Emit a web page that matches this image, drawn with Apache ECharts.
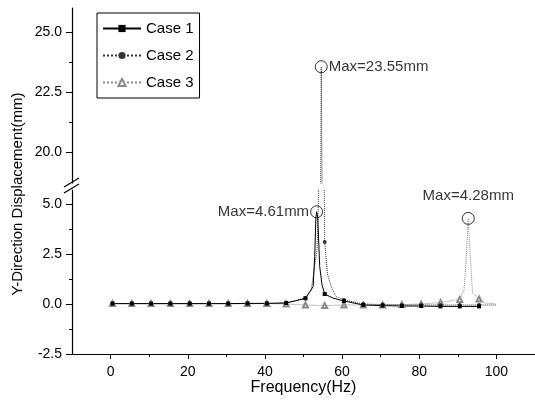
<!DOCTYPE html>
<html>
<head>
<meta charset="utf-8">
<script src="https://cdn.jsdelivr.net/npm/echarts@6/dist/echarts.min.js"></script>
<style>
  html, body { margin: 0; padding: 0; background: #fff; }
</style>
</head>
<body>
<div id="chart" style="width: 535px; height: 412px;"></div>
<script>
// marker positions (Hz), one marker every 5 Hz
const freq = [0.5, 5.5, 10.5, 15.5, 20.5, 25.5, 30.5, 35.5, 40.5, 45.5,
              50.5, 55.5, 60.5, 65.5, 70.5, 75.5, 80.5, 85.5, 90.5, 95.5];
// values at the markers (mm)
const case1 = [0.02, 0.02, 0.02, 0.02, 0.02, 0.02, 0.02, 0.03, 0.03, 0.05,
               0.28, 0.5, 0.15, -0.05, -0.08, -0.1, -0.1, -0.12, -0.12, -0.12];
const case2 = [0.02, 0.02, 0.02, 0.02, 0.02, 0.02, 0.02, 0.02, 0.03, 0.05,
               0.3, 3.1, 0.2, 0.0, -0.03, -0.05, -0.05, -0.05, -0.05, -0.05];
const case3 = [0.02, 0.02, 0.02, 0.02, 0.02, 0.02, 0.02, 0.02, 0.02, 0.0,
               -0.05, -0.08, -0.05, -0.05, -0.05, -0.03, 0.0, 0.08, 0.23, 0.25];
// extra curve points between markers (resonance peaks)
const case1Curve = [[52.5, 0.87], [52.9, 2.37], [53.2, 4.3], [53.4, 4.61], [53.7, 4.3],
                    [54.2, 1.87], [54.8, 0.95], [57.6, 0.3]];
const case2Curve = [[52.0, 0.7], [53.5, 2.7], [54.1, 7.0], [54.6, 23.55],
                    [56.2, 1.5], [57.5, 0.7], [58.5, 0.37], [100, -0.05]];
const case3Curve = [[91.6, 0.7], [92.2, 2.37], [92.7, 4.28], [93.3, 2.2], [93.8, 0.55],
                    [97.2, 0.05], [100, 0.0]];
// annotated maxima
const maxLower = [[53.4, 4.61, 'Max=4.61mm', 'left'], [92.7, 4.28, 'Max=4.28mm', 'top']];
const maxUpper = [[54.6, 23.55, 'Max=23.55mm', 'right']];

const xMajor = [0, 20, 40, 60, 80, 100];
const xMinor = [10, 30, 50, 70, 90];
const yLowMajor = [-2.5, 0, 2.5, 5];
const yLowMinor = [-1.25, 1.25, 3.75];
const yUpMajor = [20, 22.5, 25];
const yUpMinor = [21.25, 23.75];

const FONT = 'Liberation Sans, Arial, sans-serif';

// markers + curve points, sorted by frequency
function buildLine(vals, curve) {
  const pts = freq.map((f, i) => ({ value: [f, vals[i]] }));
  curve.forEach(p => pts.push({ value: p, symbol: 'none' }));
  pts.sort((a, b) => a.value[0] - b.value[0]);
  return pts;
}

const chart = echarts.init(document.getElementById('chart'));

const xBase = { type: 'value', min: -10, max: 110, splitLine: { show: false } };
// minor-tick-only axes
const minorAxis = (pos, values, len) => ({
  position: pos,
  axisLine: { show: false, onZero: false },
  axisLabel: { show: false },
  axisTick: { customValues: values, length: len, lineStyle: { color: '#000' } }
});

const styles = {
  'Case 1': { color: '#000', type: 'solid', symbol: 'rect', size: 4 },
  'Case 2': { color: '#333', type: 'dotted', symbol: 'circle', size: 4 },
  'Case 3': { color: '#8a8a8a', type: 'dotted', symbol: 'emptyTriangle', size: 5 }
};

function lineSeries(name, data, xi, yi) {
  const s = styles[name];
  return {
    type: 'line', name: name, xAxisIndex: xi, yAxisIndex: yi,
    data: data, symbol: s.symbol, symbolSize: s.size, showSymbol: true,
    clip: true, animation: false,
    lineStyle: { color: s.color, width: 1, type: s.type },
    itemStyle: { color: s.color, borderWidth: 1 }
  };
}

function maxSeries(list, xi, yi) {
  return {
    type: 'scatter', name: 'max', xAxisIndex: xi, yAxisIndex: yi, z: 5,
    symbol: 'circle', symbolSize: 12, animation: false,
    itemStyle: { color: 'rgba(0,0,0,0)', borderColor: '#000', borderWidth: 1 },
    label: { show: true, formatter: '{b}', color: '#000', fontFamily: FONT, fontSize: 15 },
    data: list.map(m => ({
      value: [m[0], m[1]], name: m[2],
      label: { position: m[3], distance: m[3] === 'top' ? 9 : 1 }
    }))
  };
}

const option = {
  backgroundColor: '#fff',
  animation: false,
  grid: [
    { left: 72, top: 190, width: 465, height: 164 },
    { left: 72, top: 8, width: 465, height: 175 }
  ],
  legend: {
    data: ['Case 1', 'Case 2', 'Case 3'],
    orient: 'vertical', left: 97, top: 13,
    borderColor: '#000', borderWidth: 1, borderRadius: 0,
    padding: [8, 6, 8, 5], itemGap: 12, itemWidth: 38, itemHeight: 9,
    textStyle: { fontFamily: FONT, fontSize: 15, color: '#000' }
  },
  xAxis: [
    Object.assign({}, xBase, {
      gridIndex: 0, position: 'bottom',
      name: 'Frequency(Hz)', nameLocation: 'middle', nameGap: 25,
      nameTextStyle: { fontFamily: FONT, fontSize: 16, color: '#000' },
      axisLine: { onZero: false, lineStyle: { color: '#000', width: 1.2 } },
      axisTick: { customValues: xMajor, length: 5, lineStyle: { color: '#000' } },
      axisLabel: { customValues: xMajor, margin: 11, fontFamily: FONT, fontSize: 14, color: '#000' }
    }),
    Object.assign({}, xBase, { gridIndex: 0 }, minorAxis('bottom', xMinor, 3)),
    Object.assign({}, xBase, { gridIndex: 1, show: false })
  ],
  yAxis: [
    {
      type: 'value', gridIndex: 0, position: 'left', min: -2.5, max: 5.7, splitLine: { show: false },
      axisLine: { show: true, onZero: false, lineStyle: { color: '#000', width: 1.2 } },
      axisTick: { customValues: yLowMajor, length: 6, lineStyle: { color: '#000' } },
      axisLabel: { customValues: yLowMajor, margin: 10, fontFamily: FONT, fontSize: 14, color: '#000',
                   formatter: v => v.toFixed(1) }
    },
    Object.assign({ type: 'value', gridIndex: 0, min: -2.5, max: 5.7, splitLine: { show: false } },
                  minorAxis('left', yLowMinor, 3)),
    {
      type: 'value', gridIndex: 1, position: 'left', min: 18.7, max: 26, splitLine: { show: false },
      axisLine: { show: true, onZero: false, lineStyle: { color: '#000', width: 1.2 } },
      axisTick: { customValues: yUpMajor, length: 6, lineStyle: { color: '#000' } },
      axisLabel: { customValues: yUpMajor, margin: 10, fontFamily: FONT, fontSize: 14, color: '#000',
                   formatter: v => v.toFixed(1) }
    },
    Object.assign({ type: 'value', gridIndex: 1, min: 18.7, max: 26, splitLine: { show: false } },
                  minorAxis('left', yUpMinor, 3))
  ],
  graphic: [
    // y axis title
    { type: 'text', x: 18, y: 194, rotation: Math.PI / 2,
      style: { text: 'Y-Direction Displacement(mm)', font: '15px ' + FONT, fill: '#000',
               align: 'center', verticalAlign: 'middle' } },
    // axis break marks
    { type: 'line', shape: { x1: 64, y1: 187, x2: 79, y2: 178 }, style: { stroke: '#000', lineWidth: 1.2 } },
    { type: 'line', shape: { x1: 64, y1: 193, x2: 79, y2: 184 }, style: { stroke: '#000', lineWidth: 1.2 } }
  ],
  series: [
    lineSeries('Case 3', buildLine(case3, case3Curve), 0, 0),
    lineSeries('Case 2', buildLine(case2, case2Curve), 0, 0),
    lineSeries('Case 1', buildLine(case1, case1Curve), 0, 0),
    lineSeries('Case 2', buildLine(case2, case2Curve), 2, 2),
    maxSeries(maxLower, 0, 0),
    maxSeries(maxUpper, 2, 2)
  ]
};

chart.setOption(option);
</script>
</body>
</html>
